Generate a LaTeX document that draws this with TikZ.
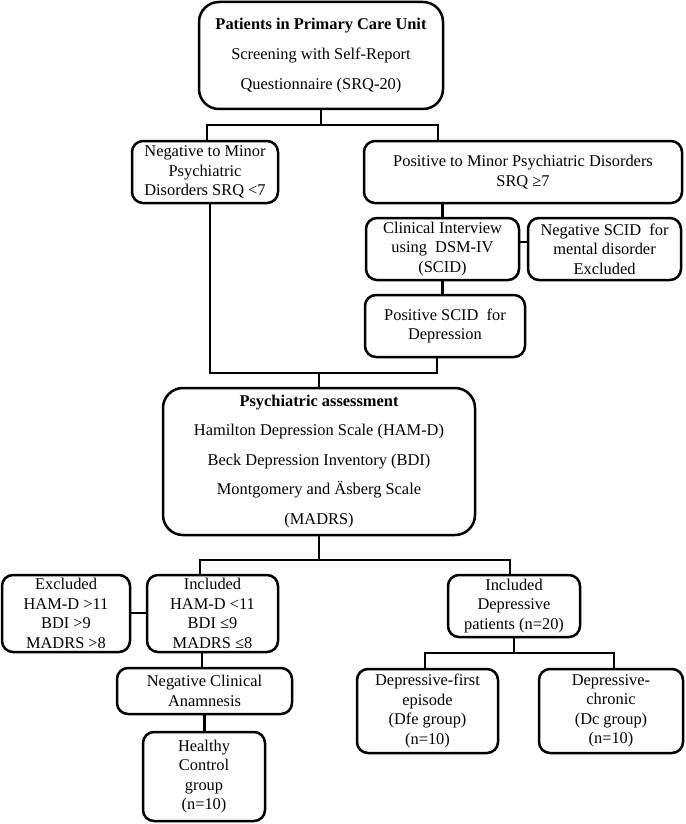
\documentclass[tikz,border=0pt]{standalone}
\usepackage{fontspec}
\setmainfont{Liberation Serif}
\begin{document}
\begin{tikzpicture}[x=1pt,y=-1pt,
  box/.style={draw, line width=2.5pt, rounded corners=11pt, align=center,
    inner sep=0pt, outer sep=0pt, anchor=north west,
    font=\fontsize{16.4}{19.5}\selectfont},
  big/.style={rounded corners=20pt, font=\fontsize{16.4}{30}\selectfont},
  conn/.style={line width=2.5pt}]
\useasboundingbox (0,0) rectangle (685,824);

\node[box,big,minimum width=244pt,minimum height=107pt] (top) at (199,2)
  {\textbf{Patients in Primary Care Unit}\\Screening with Self-Report\\Questionnaire (SRQ-20)};
\node[box,minimum width=146pt,minimum height=62pt] (neg) at (132,141)
  {Negative to Minor\\Psychiatric\\Disorders SRQ <7};
\node[box,minimum width=318pt,minimum height=62pt] (pos) at (364,141)
  {Positive to Minor Psychiatric Disorders\\SRQ ≥7};
\node[box,minimum width=153pt,minimum height=62pt] (clin) at (366,218)
  {Clinical Interview\\using\ \ DSM-IV\\(SCID)};
\node[box,minimum width=153pt,minimum height=62pt] (negscid) at (528,218)
  {Negative SCID\ \ for\\mental disorder\\Excluded};
\node[box,minimum width=160pt,minimum height=62pt] (posscid) at (365,295)
  {Positive SCID\ \ for\\Depression};
\node[box,big,minimum width=312pt,minimum height=147pt,font=\fontsize{16.4}{29.5}\selectfont] (assess) at (163,388)
  {\textbf{Psychiatric assessment}\\Hamilton Depression Scale (HAM-D)\\Beck Depression Inventory (BDI)\\Montgomery and Äsberg Scale\\(MADRS)};
\node[box,minimum width=128pt,minimum height=77pt] (excl) at (2,575)
  {Excluded\\HAM-D >11\\BDI >9\\MADRS >8};
\node[box,minimum width=131pt,minimum height=77pt] (incl) at (147,575)
  {Included\\HAM-D <11\\BDI ≤9\\MADRS ≤8};
\node[box,minimum width=132pt,minimum height=62pt] (incdep) at (448,575)
  {Included\\Depressive\\patients (n=20)};
\node[box,minimum width=175pt,minimum height=46pt] (anam) at (117,668)
  {Negative Clinical\\Anamnesis};
\node[box,minimum width=122pt,minimum height=89pt] (healthy) at (143,732)
  {Healthy\\Control\\group\\(n=10)};
\node[box,minimum width=141pt,minimum height=84pt] (dfe) at (357,669)
  {Depressive-first\\episode\\(Dfe group)\\(n=10)};
\node[box,minimum width=144pt,minimum height=84pt] (dc) at (539,669)
  {Depressive-\\chronic\\(Dc group)\\(n=10)};

\coordinate (j1) at (207,125);
\coordinate (j2) at (438,125);
\coordinate (j3) at (0,242);
\coordinate (j4) at (210,373);
\coordinate (j5) at (437,373);
\coordinate (j6) at (200,560);
\coordinate (j7) at (510,560);
\coordinate (j8) at (0,613);
\coordinate (j9) at (202,0);
\coordinate (j10) at (425,653);
\coordinate (j11) at (614,653);

\draw[conn] (top.south) -- (top.south |- j1);
\draw[conn] (j1 |- neg.north) -- (j1) -- (j2) -- (j2 |- pos.north);
\draw[conn] (clin.north |- pos.south) -- (clin.north);
\draw[conn] (clin.east |- j3) -- (negscid.west |- j3);
\draw[conn] (clin.south) -- (clin.south |- posscid.north);
\draw[conn] (j4 |- neg.south) -- (j4) -- (j5) -- (j5 |- posscid.south);
\draw[conn] (assess.north |- j4) -- (assess.north);
\draw[conn] (assess.south) -- (assess.south |- j6);
\draw[conn] (j6 |- incl.north) -- (j6) -- (j7) -- (j7 |- incdep.north);
\draw[conn] (excl.east |- j8) -- (incl.west |- j8);
\draw[conn] (j9 |- incl.south) -- (j9 |- anam.north);
\draw[conn] (anam.south) -- (anam.south |- healthy.north);
\draw[conn] (incdep.south) -- (incdep.south |- j10);
\draw[conn] (j10 |- dfe.north) -- (j10) -- (j11) -- (j11 |- dc.north);
\end{tikzpicture}
\end{document}
